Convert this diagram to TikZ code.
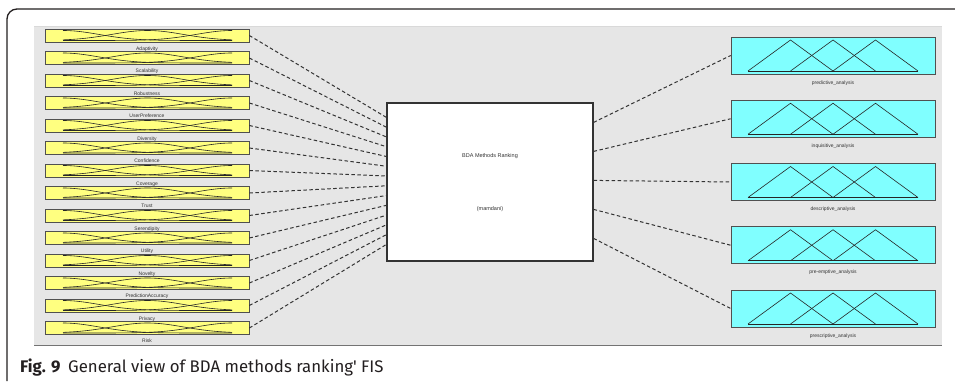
\documentclass[tikz,border=0pt]{standalone}
\usepackage{fontspec}
\setmainfont{Liberation Sans}
\newfontfamily\capfont{Fira Sans}
\usetikzlibrary{positioning,calc}
\definecolor{mfyellow}{HTML}{FFFF80}
\definecolor{mfcyan}{HTML}{80FFFF}
\definecolor{panel}{HTML}{E6E6E6}
\definecolor{edge}{HTML}{505050}
\definecolor{ink}{HTML}{231F20}

\begin{document}
\begin{tikzpicture}[x=1pt,y=-1pt,
  inbox/.style={draw=edge,fill=mfyellow,minimum width=204pt,minimum height=13pt,inner sep=0pt,line width=0.7pt},
  outbox/.style={draw=edge,fill=mfcyan,minimum width=204pt,minimum height=37pt,inner sep=0pt,line width=0.7pt},
  varlabel/.style={font=\fontsize{5}{5}\selectfont,text=black!80,inner sep=0pt},
  link/.style={dash pattern=on 3.5pt off 2.5pt,line width=1pt,black!80},
  mf/.style={black!85,line width=0.6pt}]
\useasboundingbox (0,0) rectangle (955,383);
\fill[white] (0,0) rectangle (955,383);
% grey panel and frame
\fill[panel] (34,26) rectangle (942,345);
\draw[black!15] (34,26) -- (942,26);
\draw[black!55] (34,345.5) -- (942,345.5);
\draw[ink,line width=1.3pt,rounded corners=10pt] (7,381) -- (7,9) -- (955,9);
% FIS block
\node[draw=black!80,fill=white,line width=1.2pt,minimum width=206pt,minimum height=158pt,inner sep=0pt] (fis) at (490,182) {};
\node[varlabel,font=\fontsize{5.5}{5.5}\selectfont] (fisname) at (490,156) {BDA Methods Ranking};
\node[varlabel,font=\fontsize{5.5}{5.5}\selectfont] (fistype) at (490,209) {(mamdani)};
% inputs
\foreach \name [count=\i, evaluate=\i as \yc using 35.5+22.5*(\i-1)] in
  {Adaptivity,Scalability,Robustness,UserPreference,Diversity,Confidence,Coverage,
   Trust,Serendipity,Utility,Novelty,PredictionAccuracy,Privacy,Risk}{
  \node[inbox] (in\i) at (147,\yc) {};
  \node[varlabel,below=4pt of in\i] (inlabel\i) {\name};
  \draw[mf] plot[domain=63:232,samples=50] (\x,{\yc+5-10*exp(-0.5*((\x-63)/36)^2)});
  \draw[mf] plot[domain=63:232,samples=50] (\x,{\yc+5-10*exp(-0.5*((\x-147.5)/36)^2)});
  \draw[mf] plot[domain=63:232,samples=50] (\x,{\yc+5-10*exp(-0.5*((\x-232)/36)^2)});
  \coordinate (fisL\i) at ($(fis.north west)+(0,{15+9.77*(\i-1)})$);
  \draw[link] (in\i.east) -- (fisL\i);
}
% outputs
\foreach \name [count=\j, evaluate=\j as \yc using 55.5+63.25*(\j-1)] in
  {predictive\_analysis,inquisitive\_analysis,descriptive\_analysis,pre-emptive\_analysis,prescriptive\_analysis}{
  \node[outbox] (out\j) at (833,\yc) {};
  \node[varlabel,below=6pt of out\j] (outlabel\j) {\name};
  \draw[mf] (748,\yc+15.5) -- (918,\yc+15.5);
  \draw[mf] (748,\yc+15.5) -- (790.5,\yc-15.5) -- (833,\yc+15.5);
  \draw[mf] (790.5,\yc+15.5) -- (833,\yc-15.5) -- (875.5,\yc+15.5);
  \draw[mf] (833,\yc+15.5) -- (875.5,\yc-15.5) -- (918,\yc+15.5);
  \coordinate (fisR\j) at ($(fis.north east)+(0,{20+29*(\j-1)})$);
  \draw[link] (fisR\j) -- (out\j.west);
}
% caption
\node[anchor=base west,inner sep=0pt,text=ink,font=\capfont\fontsize{16.8}{16.8}\selectfont] (caption) at (20,372)
  {\textbf{Fig. 9}\hspace{0.45em}General view of BDA methods ranking' FIS};
\end{tikzpicture}
\end{document}
